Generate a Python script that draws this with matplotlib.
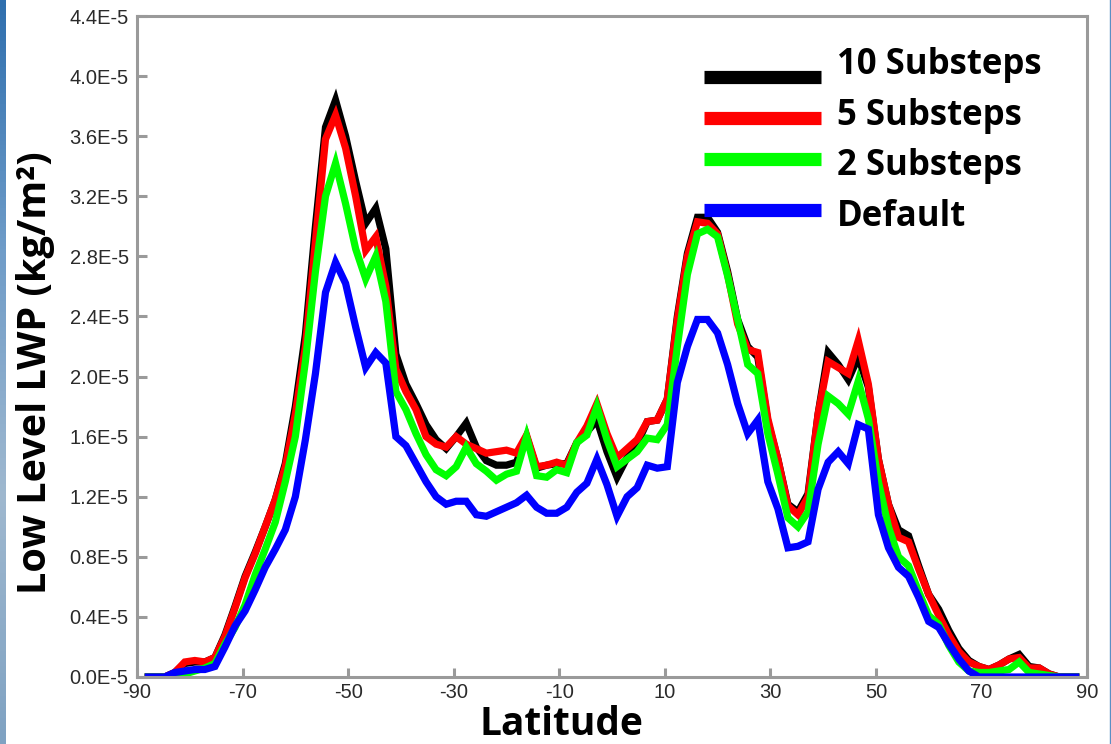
import numpy as np
import matplotlib
matplotlib.use("Agg")
import matplotlib.pyplot as plt
from matplotlib.ticker import FixedLocator, FuncFormatter
from matplotlib.lines import Line2D

# Gaussian latitudes of the 94-row model grid
nodes, _ = np.polynomial.legendre.leggauss(94)
latitude = np.degrees(np.arcsin(nodes))

# Zonal mean low level liquid water path, in units of 1E-5 kg/m2
lwp_10 = [
    0, 0, 0, 0.03, 0.09, 0.10, 0.10, 0.13, 0.28, 0.47,
    0.67, 0.83, 1.00, 1.18, 1.42, 1.80, 2.28, 3.00, 3.66, 3.84,
    3.60, 3.30, 3.02, 3.12, 2.85, 2.15, 1.95, 1.82, 1.68, 1.58,
    1.52, 1.60, 1.69, 1.53, 1.44, 1.41, 1.41, 1.43, 1.60, 1.39,
    1.41, 1.42, 1.42, 1.56, 1.63, 1.71, 1.50, 1.33, 1.46, 1.55,
    1.70, 1.71, 1.85, 2.40, 2.82, 3.06, 3.06, 2.96, 2.70, 2.38,
    2.20, 2.13, 1.70, 1.45, 1.15, 1.10, 1.22, 1.75, 2.16, 2.08,
    1.98, 2.13, 1.93, 1.45, 1.15, 0.98, 0.94, 0.74, 0.55, 0.45,
    0.31, 0.19, 0.11, 0.07, 0.05, 0.08, 0.12, 0.15, 0.07, 0.06,
    0.02, 0, 0, 0,
]
lwp_5 = [
    0, 0, 0, 0.03, 0.10, 0.11, 0.10, 0.13, 0.27, 0.46,
    0.66, 0.82, 1.00, 1.18, 1.40, 1.75, 2.20, 2.90, 3.58, 3.74,
    3.52, 3.20, 2.84, 2.93, 2.60, 2.05, 1.90, 1.78, 1.60, 1.55,
    1.53, 1.60, 1.55, 1.52, 1.49, 1.50, 1.51, 1.49, 1.61, 1.40,
    1.41, 1.43, 1.41, 1.56, 1.67, 1.82, 1.62, 1.46, 1.52, 1.58,
    1.70, 1.71, 1.85, 2.38, 2.80, 3.03, 3.02, 2.95, 2.68, 2.35,
    2.18, 2.16, 1.72, 1.45, 1.14, 1.08, 1.20, 1.75, 2.10, 2.06,
    2.02, 2.24, 1.95, 1.45, 1.15, 0.93, 0.90, 0.72, 0.55, 0.41,
    0.28, 0.17, 0.10, 0.07, 0.05, 0.08, 0.12, 0.13, 0.06, 0.06,
    0.02, 0, 0, 0,
]
lwp_2 = [
    0, 0, 0, 0, 0.02, 0.04, 0.06, 0.09, 0.22, 0.33,
    0.48, 0.68, 0.85, 1.03, 1.30, 1.60, 2.10, 2.70, 3.20, 3.42,
    3.15, 2.85, 2.65, 2.80, 2.50, 1.90, 1.78, 1.62, 1.48, 1.38,
    1.34, 1.40, 1.53, 1.42, 1.37, 1.31, 1.35, 1.37, 1.60, 1.34,
    1.33, 1.38, 1.36, 1.56, 1.61, 1.80, 1.58, 1.40, 1.45, 1.50,
    1.59, 1.58, 1.68, 2.20, 2.68, 2.95, 2.98, 2.93, 2.67, 2.38,
    2.08, 2.02, 1.62, 1.35, 1.06, 1.00, 1.10, 1.55, 1.87, 1.82,
    1.75, 1.97, 1.72, 1.30, 1.00, 0.80, 0.74, 0.57, 0.41, 0.35,
    0.21, 0.10, 0.04, 0.03, 0.03, 0.04, 0.05, 0.10, 0.03, 0.02,
    0.01, 0, 0, 0,
]
lwp_default = [
    0, 0, 0, 0.03, 0.04, 0.05, 0.05, 0.07, 0.20, 0.34,
    0.44, 0.58, 0.73, 0.85, 0.98, 1.20, 1.58, 2.02, 2.56, 2.76,
    2.62, 2.33, 2.06, 2.16, 2.09, 1.60, 1.54, 1.42, 1.30, 1.20,
    1.15, 1.17, 1.17, 1.08, 1.07, 1.10, 1.13, 1.16, 1.21, 1.13,
    1.09, 1.09, 1.13, 1.23, 1.29, 1.45, 1.28, 1.07, 1.20, 1.26,
    1.41, 1.39, 1.40, 1.96, 2.20, 2.38, 2.38, 2.29, 2.08, 1.82,
    1.62, 1.71, 1.30, 1.12, 0.86, 0.87, 0.90, 1.25, 1.43, 1.50,
    1.42, 1.68, 1.65, 1.08, 0.86, 0.73, 0.67, 0.53, 0.37, 0.33,
    0.22, 0.12, 0.04, 0, 0, 0, 0, 0, 0, 0,
    0, 0, 0, 0,
]

labels = ["10 Substeps", "5 Substeps", "2 Substeps", "Default"]
colors = ["#000000", "#ff0000", "#00ff00", "#0000ff"]
series = [lwp_10, lwp_5, lwp_2, lwp_default]
scale = 1e-5

x_ticks = [-90, -70, -50, -30, -10, 10, 30, 50, 70, 90]
y_ticks = [0.0, 0.4, 0.8, 1.2, 1.6, 2.0, 2.4, 2.8, 3.2, 3.6, 4.0, 4.4]

W, H = 1111, 744
fig = plt.figure(figsize=(W / 100, H / 100), dpi=100)
fig.patch.set_facecolor("white")

# slide background peeking in at the edges
strip = fig.add_axes([0, 0, 6 / W, 1])
grad = np.linspace(0, 1, 200)[:, None]
strip.imshow(grad, aspect="auto", cmap=matplotlib.colors.LinearSegmentedColormap.from_list(
    "bg", ["#2f6fae", "#6f9cc8", "#9fb8cf", "#7fa2c2"]), extent=[0, 1, 0, 1])
strip.set_axis_off()
fig.add_artist(Line2D([1109.5 / W, 1109.5 / W], [0, 1], color="#5b8fc4", lw=1.0,
                      transform=fig.transFigure))

ax = fig.add_axes([137 / W, 67 / H, 950 / W, 661 / H])
for vals, c, lab in zip(series, colors, labels):
    ax.plot(latitude, np.array(vals) * scale, color=c, lw=5.2,
            solid_joinstyle="miter", solid_capstyle="butt", label=lab, clip_on=True)

ax.set_xlim(-90, 90)
ax.set_ylim(0, 4.4 * scale)
ax.xaxis.set_major_locator(FixedLocator(x_ticks))
ax.yaxis.set_major_locator(FixedLocator([v * scale for v in y_ticks]))
ax.yaxis.set_major_formatter(FuncFormatter(lambda v, p: f"{v / scale:.1f}E-5"))
ax.xaxis.set_major_formatter(FuncFormatter(lambda v, p: f"{v:.0f}"))

for s in ax.spines.values():
    s.set_color("#9a9a9a")
    s.set_linewidth(2.2)
ax.tick_params(axis="both", direction="in", color="#9a9a9a", width=2.2,
               labelcolor="#2a2a2a", labelsize=14.5)
ax.tick_params(axis="y", length=7.5, pad=6)
ax.tick_params(axis="x", length=6.5, pad=4)
for t in ax.get_xticklabels() + ax.get_yticklabels():
    t.set_fontfamily(["Liberation Sans", "DejaVu Sans"])

big = ["Open Sans", "DejaVu Sans"]
fig.text(36 / W, 1 - 373 / H, "Low Level LWP (kg/m\u00b2)", rotation=90,
         ha="center", va="center", fontsize=28.5, fontweight="bold", family=big)
fig.text(561 / W, 9 / H, "Latitude", ha="center", va="baseline",
         fontsize=28, fontweight="bold", family=big)

# legend drawn as sample strokes beside bold labels
line_y = [0.9077, 0.8457, 0.7837, 0.7065]
text_y = [0.912, 0.835, 0.759, 0.682]
for c, lab, ly, ty in zip(colors, labels, line_y, text_y):
    ax.plot([0.597, 0.720], [ly, ly], color=c, lw=9.5, solid_capstyle="butt",
            transform=ax.transAxes, clip_on=False)
    ax.text(0.737, ty, lab, transform=ax.transAxes, ha="left", va="baseline",
            fontsize=25, fontweight="bold", family=big, color="black")

fig.savefig("out.png", dpi=100, facecolor="white")
